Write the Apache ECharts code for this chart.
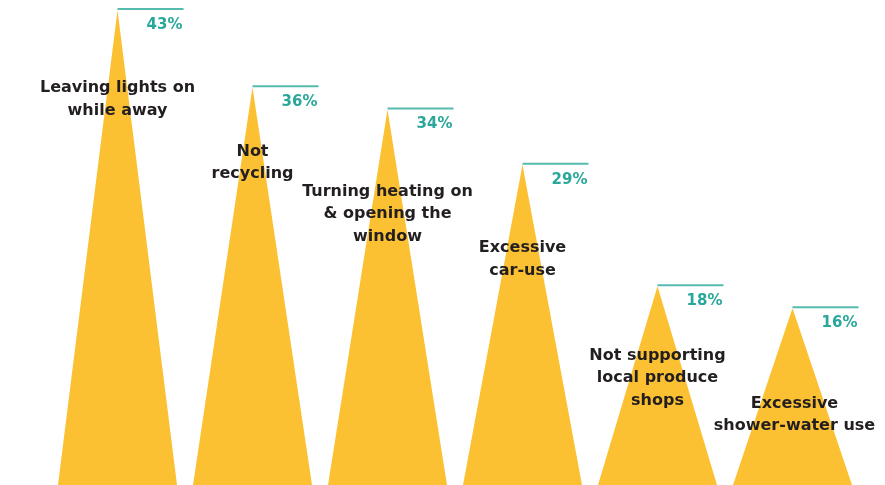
<!DOCTYPE html>
<html>
<head>
<meta charset="utf-8">
<script src="https://cdn.jsdelivr.net/npm/echarts@6/dist/echarts.min.js"></script>
<style>
  html, body { margin: 0; padding: 0; background: #fff; }
  #chart { width: 885px; height: 485px; }
</style>
</head>
<body>
<div id="chart"></div>
<script>
// chart data
const categories = [
  'Leaving lights on\nwhile away',
  'Not\nrecycling',
  'Turning heating on\n& opening the\nwindow',
  'Excessive\ncar-use',
  'Not supporting\nlocal produce\nshops',
  'Excessive\nshower-water use'
]
const values = [43, 36, 34, 29, 18, 16]
const valueLabels = ['43%', '36%', '34%', '29%', '18%', '16%']

// where each category text sits relative to its peak (layout only)
const nameOffsets = [[0, 67], [0, 53], [0, 71], [0, 72], [0, 58], [2, 84]]

const chart = echarts.init(document.getElementById('chart'))

const option = {
  animation: false,
  grid: {
    top: 10,
    left: 50,
    right: 25,
    bottom: -2
  },
  xAxis: {
    type: 'category',
    data: categories,
    show: false
  },
  yAxis: {
    type: 'value',
    min: 0,
    max: 43,
    show: false
  },
  series: [{
    // the yellow peaks
    type: 'pictorialBar',
    symbol: 'triangle',
    symbolSize: ['100%', '100%'],
    barWidth: 119,
    silent: true,
    itemStyle: {
      color: '#FBC132'
    },
    label: {
      show: true,
      position: 'insideTop',
      distance: 0,
      fontFamily: 'DejaVu Sans',
      fontWeight: 'bold',
      fontSize: 16,
      lineHeight: 22.5,
      color: '#231F20',
      align: 'center',
      formatter: p => categories[p.dataIndex]
    },
    data: values.map((v, i) => ({
      value: v,
      label: { offset: nameOffsets[i] }
    }))
  }, {
    // teal rule at each peak + the percentage
    type: 'pictorialBar',
    symbol: 'rect',
    symbolSize: [66, 2],
    symbolPosition: 'end',
    symbolOffset: ['50%', '-100%'],
    barWidth: 119,
    silent: true,
    z: 3,
    itemStyle: {
      color: '#55BBAE'
    },
    label: {
      show: true,
      position: 'insideTop',
      distance: 0,
      offset: [47, 8],
      fontFamily: 'DejaVu Sans',
      fontWeight: 'bold',
      fontSize: 15,
      lineHeight: 18,
      color: '#2AA79B',
      formatter: p => valueLabels[p.dataIndex]
    },
    data: values
  }]
}

chart.setOption(option)
</script>
</body>
</html>
